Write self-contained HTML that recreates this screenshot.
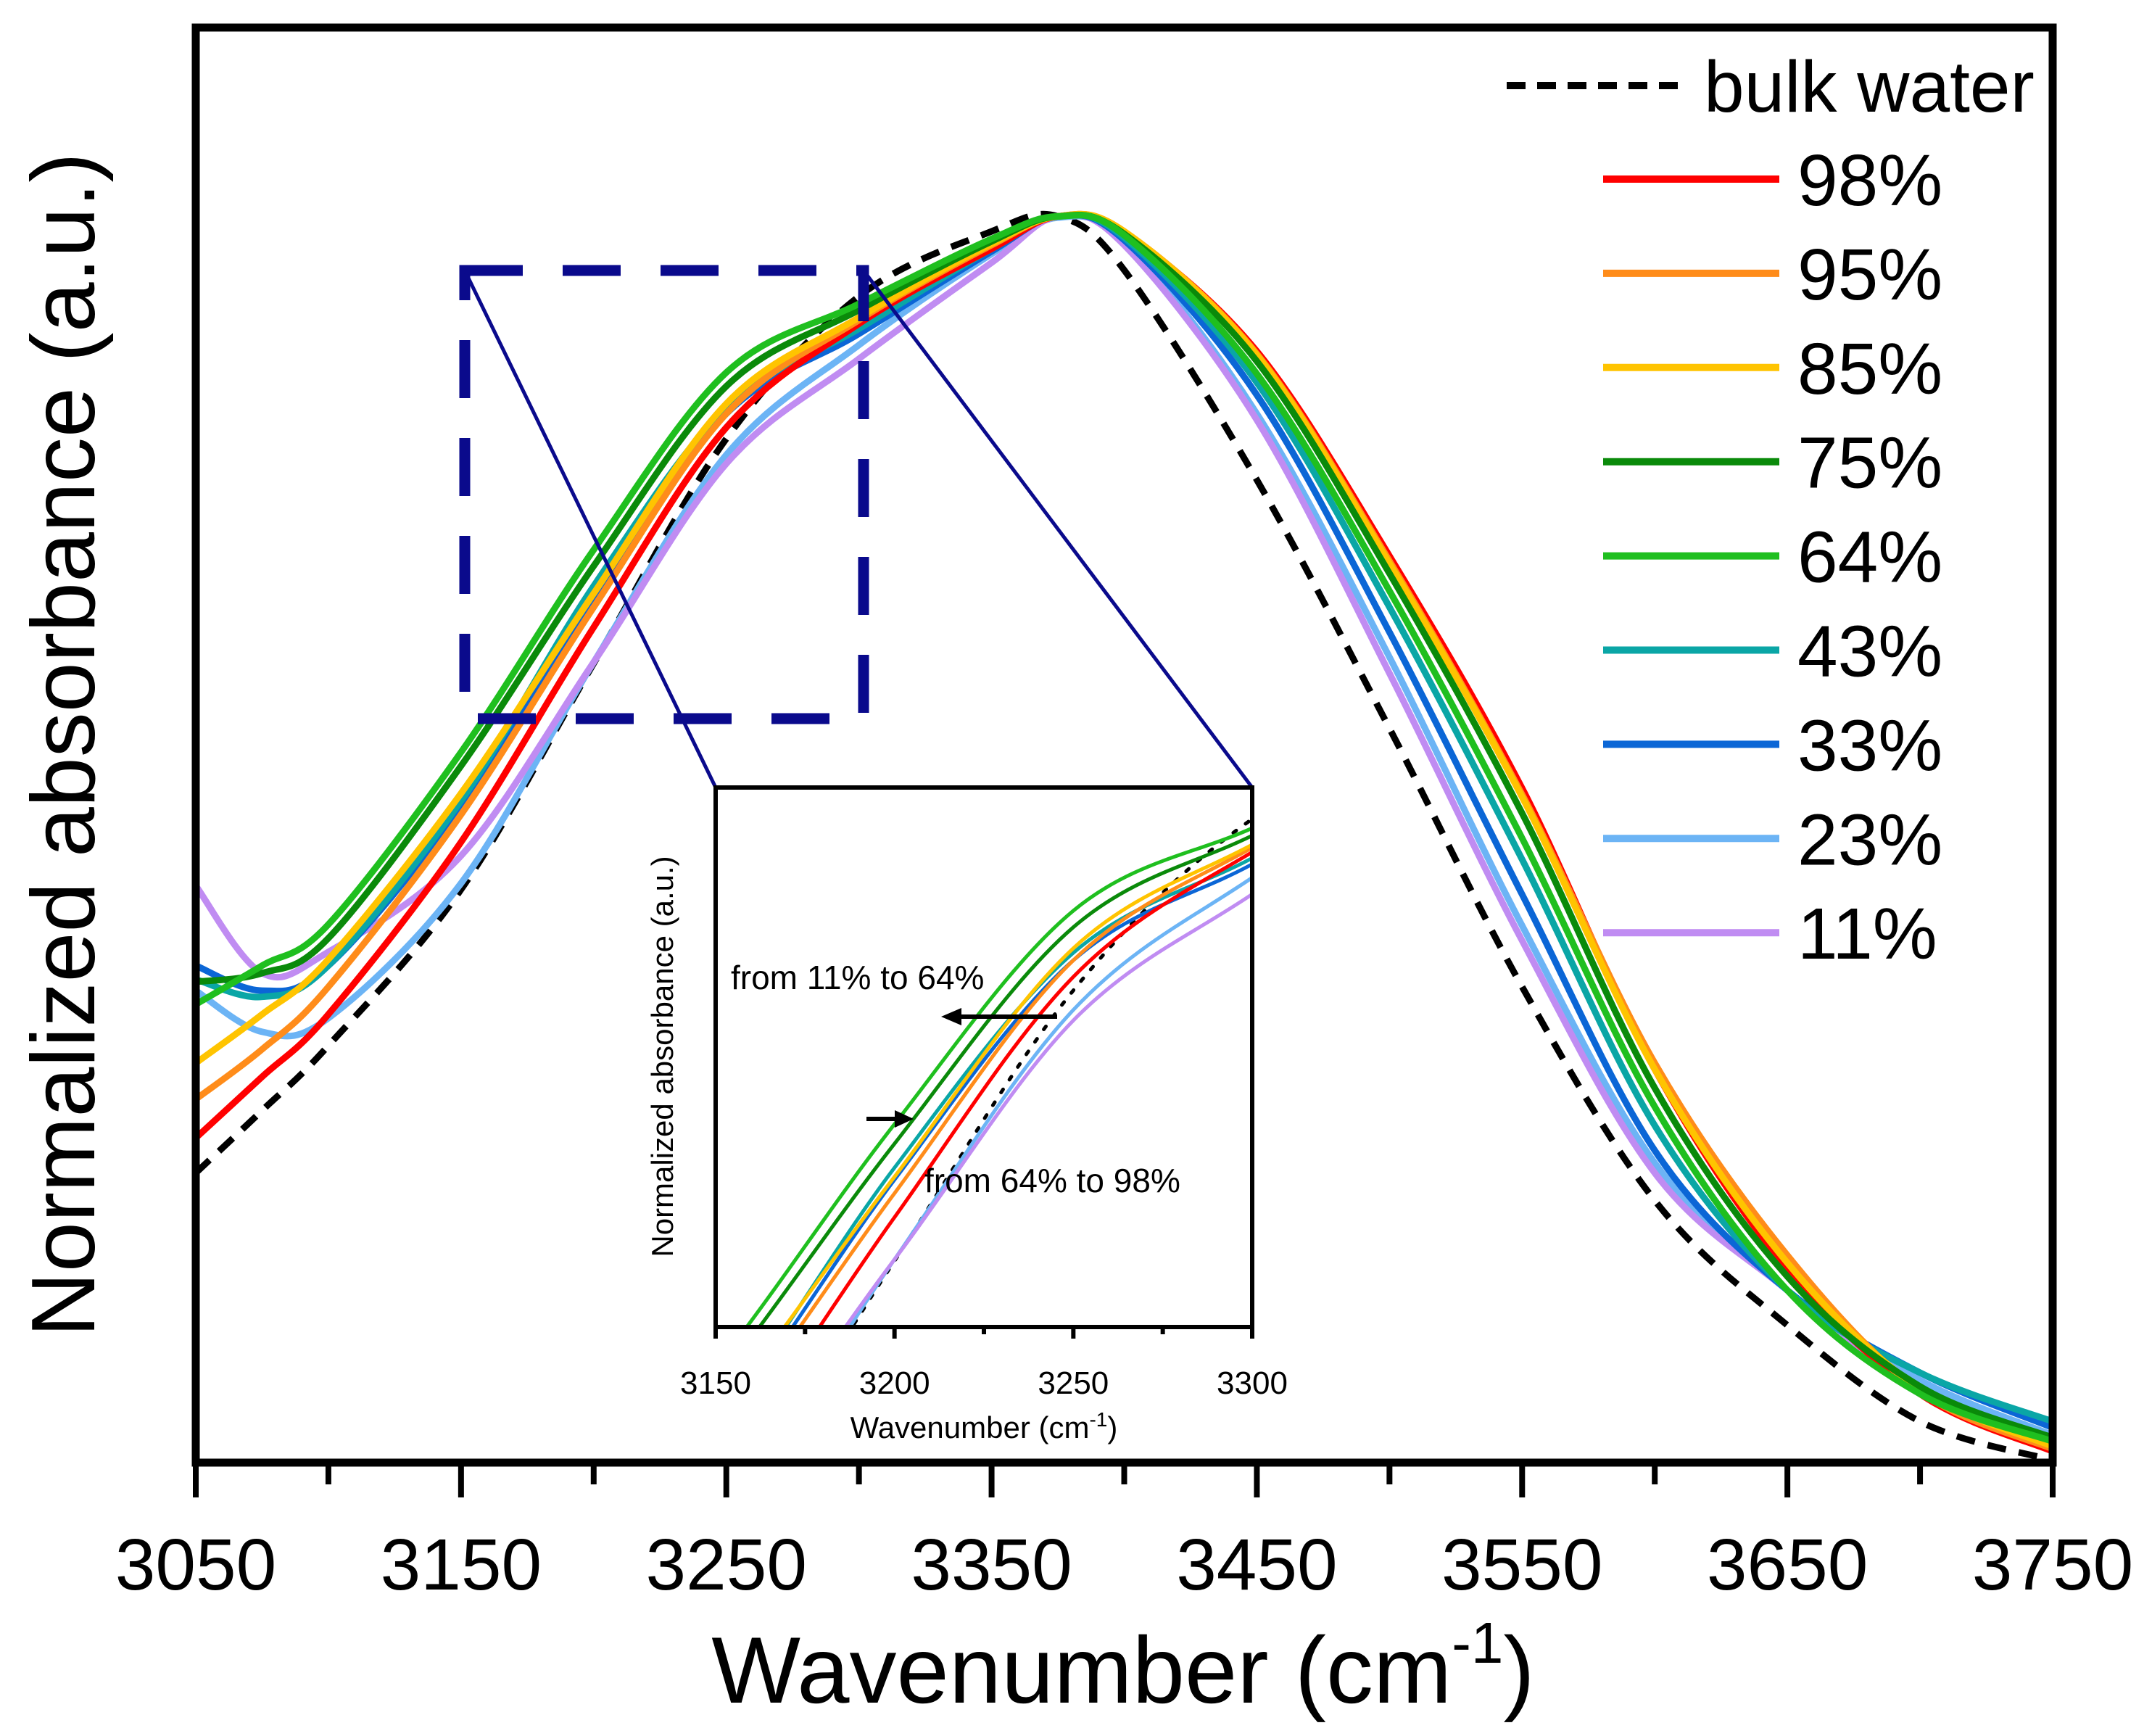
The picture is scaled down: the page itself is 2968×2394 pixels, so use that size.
<!DOCTYPE html>
<html><head><meta charset="utf-8"><style>
html,body{margin:0;padding:0;background:#fff;overflow:hidden;width:2968px;height:2394px;}
svg{display:block;font-family:"Liberation Sans",Arial,sans-serif;}
</style></head><body>
<svg id="chart" width="2968" height="2394" viewBox="0 0 2968 2394" xmlns="http://www.w3.org/2000/svg">
<rect width="2968" height="2394" fill="#fff"/>
<defs><clipPath id="insetClip"><rect x="990" y="1089" width="734" height="738"/></clipPath>
<clipPath id="mainClip"><rect x="275" y="43" width="2551" height="1974"/></clipPath></defs>
<g id="mainCurves" clip-path="url(#mainClip)"></g>
<g id="zoomBox"></g>
<g id="inset"></g>
<g id="axes"></g>
<g id="legend"></g>
<text x="1549" y="2348" font-size="130" text-anchor="middle">Wavenumber (cm<tspan font-size="80" dy="-55">-1</tspan><tspan dy="55">)</tspan></text>
<text transform="translate(130,1027) rotate(-90)" font-size="124" text-anchor="middle">Normalized absorbance (a.u.)</text>
</svg>
<script>
const wavenumbers=[3050,3075,3100,3150,3200,3250,3300,3350,3375,3400,3450,3500,3550,3600,3650,3700,3750];
const bulkWater=[.232,.282,.334,.459,.640,.820,.934,.986,.998,.955,.787,.588,.381,.210,.110,.033,.002];
const rh98=[.260,.309,.359,.497,.669,.829,.912,.972,.998,.985,.890,.726,.540,.315,.155,.055,.009];
const rh95=[.291,.331,.381,.519,.685,.840,.915,.975,.998,.986,.888,.722,.535,.320,.166,.057,.011];
const rh85=[.320,.359,.403,.536,.696,.848,.917,.976,.998,.986,.887,.720,.533,.315,.160,.059,.013];
const rh75=[.385,.392,.420,.558,.718,.862,.923,.978,.998,.984,.882,.712,.520,.300,.149,.061,.020];
const rh64=[.367,.398,.431,.569,.731,.873,.928,.980,.998,.983,.872,.698,.500,.285,.138,.055,.017];
const rh43=[.387,.373,.398,.530,.702,.845,.908,.972,.998,.981,.865,.685,.483,.270,.138,.072,.033];
const rh33=[.398,.378,.398,.525,.694,.840,.904,.970,.998,.979,.855,.665,.455,.250,.138,.072,.028];
const rh23=[.378,.345,.356,.464,.641,.807,.895,.968,.997,.977,.840,.645,.430,.240,.138,.066,.022];
const rh11=[.462,.392,.409,.486,.641,.800,.884,.961,.998,.975,.835,.632,.418,.232,.138,.055,.017];
const xTicks=[3050,3150,3250,3350,3450,3550,3650,3750];
const insetTicks=[3150,3200,3250,3300];
const legendLabels=["98%","95%","85%","75%","64%","43%","33%","23%","11%"];

const NS="http://www.w3.org/2000/svg";
const series=[
 {name:"bulk",data:bulkWater,color:"#000",dash:true},
 {name:"rh23",data:rh23,color:"#6cb4f5"},
 {name:"rh11",data:rh11,color:"#c08cf2"},
 {name:"rh33",data:rh33,color:"#0b66d6"},
 {name:"rh43",data:rh43,color:"#0aa6a6"},
 {name:"rh98",data:rh98,color:"#ff0000"},
 {name:"rh95",data:rh95,color:"#ff8c1a"},
 {name:"rh85",data:rh85,color:"#ffc400"},
 {name:"rh75",data:rh75,color:"#0a8a0a"},
 {name:"rh64",data:rh64,color:"#1fbf1f"}
];
const legendColors=["#ff0000","#ff8c1a","#ffc400","#0a8a0a","#1fbf1f","#0aa6a6","#0b66d6","#6cb4f5","#c08cf2"];
const X=w=>270+(w-3050)/700*2561;
const Y=v=>2017-v*1722;
const IX=w=>987+(w-3150)/150*740;
const IY=v=>1830-(v-.596)/(.955-.596)*744;
function mk(tag,attrs,parent){const e=document.createElementNS(NS,tag);for(const k in attrs)e.setAttribute(k,attrs[k]);parent.appendChild(e);return e;}
function pathD(pts){let d="M"+pts[0][0]+","+pts[0][1];for(let i=0;i<pts.length-1;i++){const p0=pts[i-1]||pts[i],p1=pts[i],p2=pts[i+1],p3=pts[i+2]||p2;
 const c1=[p1[0]+(p2[0]-p0[0])/6,p1[1]+(p2[1]-p0[1])/6],c2=[p2[0]-(p3[0]-p1[0])/6,p2[1]-(p3[1]-p1[1])/6];
 d+=" C"+c1[0].toFixed(1)+","+c1[1].toFixed(1)+" "+c2[0].toFixed(1)+","+c2[1].toFixed(1)+" "+p2[0].toFixed(1)+","+p2[1].toFixed(1);}return d;}
const mainG=document.getElementById("mainCurves");
series.forEach(s=>{
 const p=mk("path",{d:pathD(wavenumbers.map((w,i)=>[X(w),Y(s.data[i])])),fill:"none",stroke:s.color,"stroke-width":9,"stroke-dasharray":s.dash?"26 18":"none","stroke-linejoin":"round"},mainG);
 
 
});
const zb=document.getElementById("zoomBox");
const r=mk("rect",{x:641,y:373,width:550,height:618,fill:"none",stroke:"#0a0a8c","stroke-width":15,"stroke-dasharray":"80 55"},zb);

const l1=mk("line",{x1:641,y1:373,x2:987,y2:1086,stroke:"#0a0a8c","stroke-width":5},zb);

const l2=mk("line",{x1:1191,y1:373,x2:1727,y2:1086,stroke:"#0a0a8c","stroke-width":5},zb);

const ins=document.getElementById("inset");
const bg=mk("rect",{x:987,y:1086,width:740,height:744,fill:"#fff"},ins);

const ic=mk("g",{"clip-path":"url(#insetClip)"},ins);
series.forEach(s=>{
 const p=mk("path",{d:pathD(wavenumbers.map((w,i)=>[IX(w),IY(s.data[i])])),fill:"none",stroke:s.color,"stroke-width":5,"stroke-dasharray":s.dash?"5 16":"none","stroke-linecap":"round"},ic);
 
 
});
const fr=mk("rect",{x:987,y:1086,width:740,height:744,fill:"none",stroke:"#000","stroke-width":6},ins);

for(let w=3150;w<=3300;w+=25){const t=mk("line",{x1:IX(w),y1:1830,x2:IX(w),y2:1830+(w%50==0?16:10),stroke:"#000","stroke-width":6},ins);
 }
insetTicks.forEach(w=>{const t=mk("text",{x:IX(w),y:1922,"font-size":44,"text-anchor":"middle"},ins);t.textContent=w;
 });
const it=mk("text",{x:1357,y:1983,"font-size":42,"text-anchor":"middle"},ins);
it.innerHTML='Wavenumber (cm<tspan font-size="28" dy="-16">-1</tspan><tspan dy="16">)</tspan>';

const iy=mk("text",{transform:"translate(928,1457) rotate(-90)","font-size":42,"text-anchor":"middle"},ins);iy.textContent="Normalized absorbance (a.u.)";

const a1=mk("text",{x:1008,y:1364,"font-size":46},ins);a1.textContent="from 11% to 64%";

const a2=mk("text",{x:1275,y:1644,"font-size":46},ins);a2.textContent="from 64% to 98%";

const ar1=mk("g",{},ins);
mk("line",{x1:1458,y1:1402,x2:1320,y2:1402,stroke:"#000","stroke-width":6},ar1);
mk("polygon",{points:"1298,1402 1326,1390 1326,1414",fill:"#000"},ar1);
const ar2=mk("g",{},ins);
mk("line",{x1:1195,y1:1543,x2:1240,y2:1543,stroke:"#000","stroke-width":6},ar2);
mk("polygon",{points:"1260,1543 1234,1531 1234,1555",fill:"#000"},ar2);
const ax=document.getElementById("axes");
const f=mk("rect",{x:270,y:38,width:2561,height:1979,fill:"none",stroke:"#000","stroke-width":11},ax);

for(let w=3050;w<=3750;w+=50){const t=mk("line",{x1:X(w),y1:2017,x2:X(w),y2:2017+(w%100==50?48:30),stroke:"#000","stroke-width":8},ax);
 }
xTicks.forEach(w=>{const t=mk("text",{x:X(w),y:2192,"font-size":100,"text-anchor":"middle"},ax);t.textContent=w;
 });
const lg=document.getElementById("legend");
const bl=mk("line",{x1:2078,y1:118,x2:2321,y2:118,stroke:"#000","stroke-width":10,"stroke-dasharray":"26 16"},lg);

const bt=mk("text",{x:2350,y:154,"font-size":100},lg);bt.textContent="bulk water";

legendLabels.forEach((lab,i)=>{const y=247+i*129.9;
 const ln=mk("line",{x1:2211,y1:y,x2:2454,y2:y,stroke:legendColors[i],"stroke-width":10},lg);
 
 const t=mk("text",{x:2479,y:y+36,"font-size":100},lg);t.textContent=lab;
 });
</script>
</body></html>
